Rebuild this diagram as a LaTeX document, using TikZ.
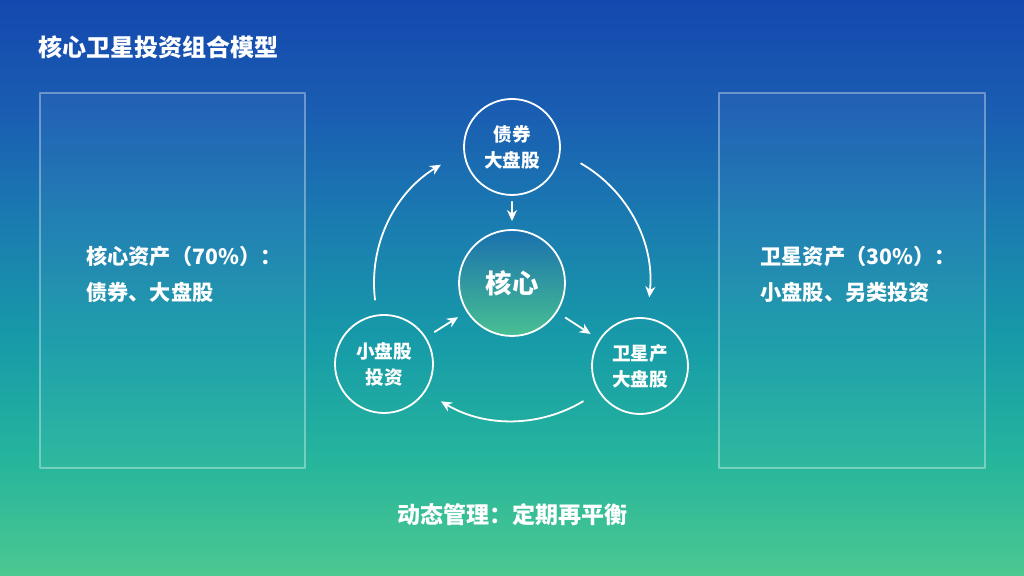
\documentclass[tikz,border=0pt]{standalone}
\usepackage{fontspec}
\setmainfont{Noto Sans CJK SC}
\usetikzlibrary{arrows.meta}
\definecolor{bgA}{HTML}{1448AE}
\definecolor{bgB}{HTML}{1A5EB2}
\definecolor{bgC}{HTML}{1A7EB0}
\definecolor{bgD}{HTML}{179CA8}
\definecolor{bgE}{HTML}{26B59C}
\definecolor{bgF}{HTML}{4CC890}
\definecolor{coretop}{HTML}{1A70AE}
\definecolor{corebot}{HTML}{48C092}
\pgfdeclareverticalshading{slideshade}{100bp}{color(0bp)=(bgF); color(25bp)=(bgF); color(35bp)=(bgE); color(45bp)=(bgD); color(55bp)=(bgC); color(65bp)=(bgB); color(75bp)=(bgA); color(100bp)=(bgA)}

\begin{document}
\begin{tikzpicture}[x=0.5pt, y=0.5pt, line cap=round, line join=round,
		panel/.style={draw=white, draw opacity=0.35, fill=white, fill opacity=0.04, line width=0.6pt},
		bubble/.style={circle, draw=white, line width=0.9pt, minimum size=48pt, inner sep=0pt, align=center, text=white, font=\fontsize{9.3}{13}\selectfont\bfseries},
		flow/.style={white, line width=0.9pt, -{Stealth[length=5.5pt,width=5pt]}},
		caption/.style={text=white, align=left, anchor=west, inner sep=0pt, font=\fontsize{10.6}{18}\selectfont\bfseries}]
			% background
			\shade[shading=slideshade] (0,0) rectangle (1024,576);
			\useasboundingbox (0,0) rectangle (1024,576);
			\node[text=white, anchor=west, inner sep=0pt, font=\fontsize{12}{14}\selectfont\bfseries] (title) at (38,529) {核心卫星投资组合模型};
			% side panels
			\draw[panel] (40,108) rectangle (305,483);
			\draw[panel] (719,108) rectangle (985,483);
			\node[caption] (coretext) at (86,302) {核心资产（70\%）：\\债券、大盘股};
			\node[caption] (sattext) at (760,302) {卫星资产（30\%）：\\小盘股、另类投资};
			% circles
			\node[bubble, minimum size=53pt, top color=coretop, bottom color=corebot, font=\fontsize{13.2}{15}\selectfont\bfseries] (core) at (512,293) {核心};
			\node[bubble] (top) at (512,429) {债券\\大盘股};
			\node[bubble, minimum size=49pt] (small) at (384,212) {小盘股\\投资};
			\node[bubble] (sat) at (640,210) {卫星产\\大盘股};
			% arrows
			\draw[flow, shorten <=3pt, shorten >=4pt] (top) -- (core);
			\draw[flow, shorten <=5pt, shorten >=5pt] (core) -- (sat);
			\draw[flow, shorten <=5pt, shorten >=5pt] (small) -- (core);
			\draw[flow] ([shift={(187:138)}]core.center) arc[start angle=187, end angle=121, radius=138];
			\draw[flow] ([shift={(60:138)}]core.center) arc[start angle=60, end angle=-6, radius=138];
			\draw[flow] ([shift={(-59:138)}]core.center) arc[start angle=-59, end angle=-121, radius=138];
			\node[text=white, font=\fontsize{11.5}{14}\selectfont\bfseries] (rebal) at (512,61) {动态管理：定期再平衡};
		\end{tikzpicture}
\end{document}
